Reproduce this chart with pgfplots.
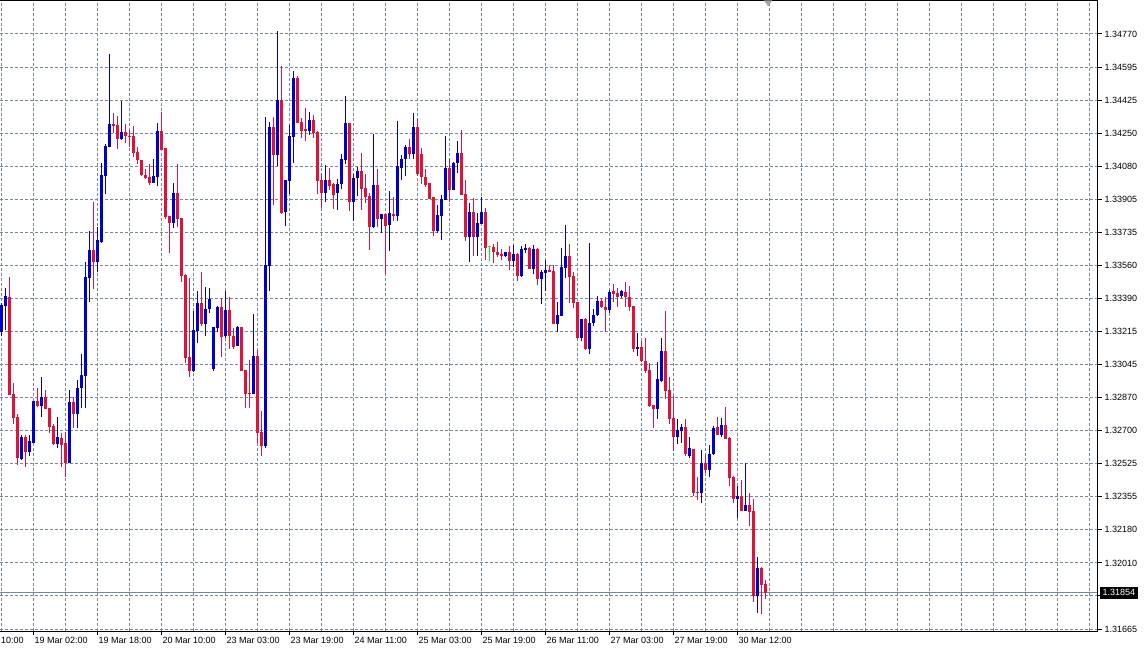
\documentclass[border=0pt]{standalone}
\usepackage{fontspec}
\setmainfont{Liberation Sans}
\usepackage{pgfplots}
\usepackage{pgfplotstable}
\pgfplotsset{compat=1.18}

\definecolor{bull}{RGB}{0,0,205}
\definecolor{bear}{RGB}{220,20,60}
\definecolor{doji}{RGB}{0,255,0}
\definecolor{gridc}{RGB}{119,136,153}

% hourly candles, x = bar index, t: 1 up, -1 down, 0 doji
\pgfplotstableread{
x t o h l c
0 1 1.33215 1.33366 1.33194 1.33356
1 1 1.33351 1.33445 1.33225 1.33403
2 -1 1.33398 1.33502 1.32886 1.32886
3 -1 1.32892 1.32949 1.32735 1.32766
4 -1 1.32772 1.32787 1.32521 1.32558
5 1 1.32552 1.32678 1.32547 1.32667
6 -1 1.32667 1.32678 1.32511 1.32589
7 1 1.32589 1.32678 1.32568 1.32646
8 1 1.32636 1.32855 1.32636 1.32855
9 -1 1.32855 1.32923 1.32824 1.32829
10 1 1.32829 1.32980 1.32772 1.32876
11 -1 1.32876 1.32912 1.32813 1.32813
12 -1 1.32819 1.32819 1.32688 1.32719
13 -1 1.32725 1.32735 1.32625 1.32631
14 1 1.32631 1.32772 1.32610 1.32667
15 -1 1.32662 1.32688 1.32511 1.32625
16 -1 1.32636 1.32693 1.32458 1.32531
17 1 1.32531 1.32912 1.32531 1.32850
18 -1 1.32850 1.32876 1.32714 1.32787
19 1 1.32787 1.32965 1.32714 1.32923
20 1 1.32923 1.33100 1.32819 1.32991
21 1 1.32985 1.33580 1.32819 1.33502
22 1 1.33497 1.33742 1.33372 1.33643
23 -1 1.33643 1.33893 1.33439 1.33580
24 1 1.33580 1.33763 1.33528 1.33695
25 1 1.33685 1.34097 1.33679 1.34034
26 1 1.34029 1.34196 1.33935 1.34186
27 1 1.34180 1.34666 1.34180 1.34300
28 -1 1.34300 1.34358 1.34253 1.34290
29 -1 1.34295 1.34342 1.34170 1.34222
30 1 1.34222 1.34420 1.34217 1.34259
31 -1 1.34259 1.34300 1.34201 1.34238
32 -1 1.34238 1.34269 1.34180 1.34233
33 -1 1.34238 1.34290 1.34128 1.34149
34 -1 1.34154 1.34180 1.34092 1.34113
35 -1 1.34113 1.34113 1.34029 1.34034
36 -1 1.34034 1.34066 1.34013 1.34019
37 -1 1.34024 1.34092 1.33982 1.33993
38 1 1.33993 1.34118 1.33993 1.34029
39 1 1.34024 1.34306 1.33977 1.34264
40 -1 1.34264 1.34363 1.34165 1.34165
41 -1 1.34175 1.34175 1.33805 1.33815
42 -1 1.33820 1.33820 1.33627 1.33784
43 1 1.33784 1.33993 1.33758 1.33940
44 -1 1.33940 1.34092 1.33763 1.33805
45 -1 1.33810 1.33810 1.33476 1.33507
46 -1 1.33512 1.33518 1.33053 1.33079
47 -1 1.33085 1.33497 1.32980 1.33012
48 1 1.33012 1.33325 1.33006 1.33225
49 1 1.33220 1.33429 1.33158 1.33366
50 -1 1.33366 1.33528 1.33246 1.33257
51 1 1.33257 1.33450 1.33194 1.33335
52 1 1.33335 1.33445 1.33314 1.33387
53 1 1.33022 1.33241 1.33012 1.33241
54 1 1.33236 1.33351 1.33215 1.33346
55 -1 1.33346 1.33392 1.33085 1.33189
56 1 1.33194 1.33429 1.33184 1.33330
57 -1 1.33330 1.33398 1.33126 1.33194
58 -1 1.33194 1.33236 1.33126 1.33137
59 1 1.33142 1.33246 1.33142 1.33241
60 -1 1.33241 1.33241 1.33012 1.33012
61 -1 1.33017 1.33017 1.32819 1.32892
62 -1 1.32897 1.33069 1.32819 1.32892
63 1 1.32892 1.33309 1.32892 1.33090
64 -1 1.33090 1.33121 1.32636 1.32688
65 -1 1.32693 1.32803 1.32568 1.32620
66 1 1.32620 1.34337 1.32610 1.33565
67 1 1.33559 1.34311 1.33429 1.34285
68 -1 1.34285 1.34337 1.33878 1.34139
69 1 1.34139 1.34786 1.34081 1.34426
70 -1 1.34426 1.34603 1.33831 1.33836
71 1 1.33841 1.34008 1.33768 1.34008
72 1 1.34003 1.34295 1.33935 1.34238
73 1 1.34233 1.34577 1.34097 1.34540
74 -1 1.34540 1.34551 1.34306 1.34306
75 -1 1.34311 1.34332 1.34227 1.34264
76 -1 1.34274 1.34384 1.34212 1.34264
77 1 1.34264 1.34363 1.34243 1.34321
78 -1 1.34321 1.34347 1.34227 1.34253
79 -1 1.34259 1.34264 1.33935 1.34003
80 -1 1.34008 1.34040 1.33862 1.33940
81 1 1.33940 1.34086 1.33893 1.34008
82 -1 1.34008 1.34071 1.33956 1.33977
83 -1 1.33987 1.33993 1.33857 1.33930
84 1 1.33940 1.34013 1.33852 1.33987
85 1 1.33987 1.34144 1.33961 1.34118
86 1 1.34113 1.34446 1.34092 1.34306
87 -1 1.34306 1.34306 1.33846 1.33893
88 1 1.33893 1.34040 1.33794 1.34019
89 1 1.34019 1.34076 1.33925 1.34055
90 -1 1.34055 1.34149 1.33852 1.33961
91 -1 1.33966 1.34040 1.33888 1.33919
92 -1 1.33925 1.33940 1.33643 1.33763
93 1 1.33763 1.34248 1.33758 1.33982
94 -1 1.33982 1.34066 1.33763 1.33805
95 1 1.33805 1.33831 1.33732 1.33831
96 -1 1.33831 1.33831 1.33518 1.33768
97 1 1.33773 1.33951 1.33638 1.33836
98 -1 1.33831 1.33919 1.33794 1.33820
99 1 1.33820 1.34316 1.33794 1.34081
100 1 1.34071 1.34139 1.34008 1.34118
101 1 1.34118 1.34191 1.34029 1.34180
102 -1 1.34180 1.34222 1.34118 1.34144
103 1 1.34144 1.34358 1.34118 1.34285
104 -1 1.34285 1.34326 1.34029 1.34040
105 -1 1.34144 1.34175 1.33987 1.34024
106 -1 1.34024 1.34066 1.33972 1.33982
107 -1 1.33993 1.33993 1.33909 1.33909
108 -1 1.33919 1.33919 1.33716 1.33742
109 1 1.33742 1.33878 1.33732 1.33826
110 1 1.33820 1.33930 1.33695 1.33909
111 1 1.33904 1.34238 1.33904 1.34071
112 -1 1.34071 1.34118 1.33893 1.33956
113 1 1.33956 1.34102 1.33956 1.34097
114 1 1.34097 1.34212 1.34045 1.34149
115 -1 1.34149 1.34269 1.33930 1.33930
116 -1 1.33935 1.34008 1.33690 1.33711
117 1 1.33711 1.33888 1.33580 1.33841
118 -1 1.33841 1.33914 1.33612 1.33711
119 1 1.33711 1.33836 1.33612 1.33784
120 1 1.33779 1.33919 1.33779 1.33841
121 -1 1.33841 1.33862 1.33591 1.33653
122 0 1.33659 1.33664 1.33586 1.33659
123 -1 1.33659 1.33674 1.33575 1.33632
124 -1 1.33632 1.33685 1.33606 1.33617
125 -1 1.33622 1.33648 1.33591 1.33612
126 1 1.33612 1.33632 1.33606 1.33632
127 -1 1.33632 1.33664 1.33539 1.33586
128 1 1.33586 1.33669 1.33554 1.33622
129 -1 1.33622 1.33627 1.33481 1.33507
130 1 1.33507 1.33664 1.33502 1.33648
131 1 1.33643 1.33674 1.33627 1.33653
132 -1 1.33653 1.33659 1.33544 1.33544
133 1 1.33544 1.33669 1.33518 1.33648
134 -1 1.33648 1.33653 1.33460 1.33492
135 1 1.33492 1.33539 1.33361 1.33528
136 1 1.33523 1.33591 1.33429 1.33539
137 -1 1.33539 1.33565 1.33528 1.33528
138 -1 1.33533 1.33565 1.33257 1.33257
139 1 1.33257 1.33372 1.33215 1.33304
140 1 1.33299 1.33653 1.33299 1.33554
141 1 1.33549 1.33773 1.33497 1.33612
142 -1 1.33612 1.33674 1.33366 1.33502
143 -1 1.33507 1.33528 1.33340 1.33366
144 -1 1.33372 1.33372 1.33178 1.33184
145 1 1.33184 1.33283 1.33168 1.33283
146 -1 1.33283 1.33288 1.33121 1.33126
147 1 1.33126 1.33679 1.33100 1.33262
148 1 1.33262 1.33335 1.33246 1.33304
149 1 1.33304 1.33403 1.33299 1.33377
150 -1 1.33377 1.33392 1.33340 1.33346
151 -1 1.33346 1.33398 1.33215 1.33330
152 1 1.33330 1.33434 1.33314 1.33424
153 -1 1.33429 1.33466 1.33372 1.33413
154 -1 1.33419 1.33445 1.33346 1.33398
155 1 1.33403 1.33434 1.33392 1.33429
156 -1 1.33424 1.33476 1.33346 1.33398
157 -1 1.33398 1.33455 1.33325 1.33346
158 -1 1.33351 1.33351 1.33111 1.33126
159 1 1.33126 1.33210 1.33090 1.33137
160 -1 1.33137 1.33168 1.33058 1.33064
161 -1 1.33064 1.33184 1.33001 1.33012
162 -1 1.33017 1.33053 1.32824 1.32829
163 -1 1.32834 1.32834 1.32714 1.32813
164 1 1.32813 1.33058 1.32761 1.32970
165 1 1.32959 1.33184 1.32954 1.33116
166 -1 1.33116 1.33325 1.32865 1.32907
167 -1 1.32912 1.32980 1.32735 1.32761
168 -1 1.32766 1.32881 1.32594 1.32667
169 1 1.32667 1.32761 1.32631 1.32704
170 1 1.32698 1.32735 1.32636 1.32719
171 -1 1.32719 1.32761 1.32568 1.32578
172 1 1.32568 1.32667 1.32558 1.32610
173 -1 1.32604 1.32604 1.32359 1.32375
174 -1 1.32380 1.32458 1.32338 1.32375
175 1 1.32375 1.32599 1.32323 1.32531
176 -1 1.32531 1.32573 1.32479 1.32495
177 1 1.32495 1.32625 1.32458 1.32578
178 1 1.32578 1.32725 1.32573 1.32714
179 -1 1.32719 1.32772 1.32678 1.32678
180 1 1.32678 1.32766 1.32667 1.32730
181 -1 1.32730 1.32824 1.32657 1.32657
182 -1 1.32662 1.32667 1.32411 1.32453
183 -1 1.32458 1.32464 1.32323 1.32344
184 1 1.32344 1.32411 1.32244 1.32359
185 -1 1.32359 1.32443 1.32281 1.32281
186 1 1.32281 1.32531 1.32281 1.32312
187 -1 1.32312 1.32375 1.32203 1.32276
188 -1 1.32281 1.32344 1.31806 1.31837
189 1 1.31837 1.32041 1.31749 1.31984
190 -1 1.31984 1.31989 1.31744 1.31895
191 -1 1.31900 1.31921 1.31822 1.31854
}\candles

\begin{document}
\begin{tikzpicture}
\begin{axis}[
  at={(0pt,17pt)}, anchor=south west,
  scale only axis, width=1098pt, height=630.5pt,
  xmin=-0.325, xmax=274.175,
  ymin=1.316548, ymax=1.349448,
  clip=false,
  axis line style={draw=none},
  font=\fontsize{9}{10}\selectfont,
  xtick={8,24,40,56,72,88,104,120,136,152,168,184},
  xticklabels={19 Mar 02:00,19 Mar 18:00,20 Mar 10:00,23 Mar 03:00,23 Mar 19:00,24 Mar 11:00,25 Mar 03:00,25 Mar 19:00,26 Mar 11:00,27 Mar 03:00,27 Mar 19:00,30 Mar 12:00},
  minor xtick={0,16,32,48,64,80,96,112,128,144,160,176,192,200,208,216,224,232,240,248,256,264,272},
  ytick={1.347700,1.345975,1.344250,1.342525,1.340800,1.339075,1.337350,1.335625,1.333900,1.332175,1.330450,1.328725,1.327000,1.325275,1.323550,1.321825,1.320100,1.318375,1.316650},
  yticklabels={1.34770,1.34595,1.34425,1.34250,1.34080,1.33905,1.33735,1.33560,1.33390,1.33215,1.33045,1.32870,1.32700,1.32525,1.32355,1.32180,1.32010,,1.31665},
  xtick pos=bottom, ytick pos=right, yticklabel pos=right,
  tick align=outside, major tick length=4pt, minor tick length=0pt,
  tick style={black, line width=1pt},
  xmajorgrids, xminorgrids, ymajorgrids,
  major grid style={gridc, line width=1pt, dash pattern=on 3pt off 2pt},
  minor grid style={gridc, line width=1pt, dash pattern=on 3pt off 2pt},
  xticklabel style={anchor=north west, xshift=-2.3pt, yshift=1pt},
  yticklabel style={anchor=west, xshift=-1pt},
]
% bid line
\addplot[gridc, line width=1pt] coordinates {(-0.325,1.31854) (274.175,1.31854)};

% wicks
\addplot[bull, line width=1pt, quiver={u=0, v=\thisrow{h}-\thisrow{l}},
  restrict expr to domain={\thisrow{t}}{1:1}] table[x=x, y=l] {\candles};
\addplot[bear, line width=1pt, quiver={u=0, v=\thisrow{h}-\thisrow{l}},
  restrict expr to domain={\thisrow{t}}{-1:-1}] table[x=x, y=l] {\candles};
\addplot[doji, line width=1pt, quiver={u=0, v=\thisrow{h}-\thisrow{l}},
  restrict expr to domain={\thisrow{t}}{0:0}] table[x=x, y=l] {\candles};

% bodies
\addplot[bull, line width=3pt, quiver={u=0, v=\thisrow{c}-\thisrow{o}},
  restrict expr to domain={\thisrow{t}}{1:1}] table[x=x, y=o] {\candles};
\addplot[bear, line width=3pt, quiver={u=0, v=\thisrow{c}-\thisrow{o}},
  restrict expr to domain={\thisrow{t}}{-1:-1}] table[x=x, y=o] {\candles};
\addplot[doji, only marks, mark=-, mark size=1.5pt, mark options={line width=1pt},
  restrict expr to domain={\thisrow{t}}{0:0}] table[x=x, y=o] {\candles};

% frame: top, right, bottom
\draw[black, line width=1pt] (rel axis cs:0,1) -- (rel axis cs:1,1) -- (rel axis cs:1,0) -- (rel axis cs:0,0);

% cut-off first date label
\node[anchor=north west, inner sep=3.33pt, xshift=-2.3pt, yshift=-3pt] at (axis cs:-8,1.316548) {18 Mar 10:00};

% current price tag
\node[fill=black, text=white, anchor=west, inner xsep=3pt, inner ysep=1.5pt, minimum height=12pt, xshift=1.5pt]
  at (axis cs:274.175,1.31854) {1.31854};

% chart shift marker
\fill[gray!70] (axis cs:190.7,1.349448) -- (axis cs:192.7,1.349448) -- ([yshift=-6pt]axis cs:191.7,1.349448) -- cycle;
\end{axis}
\pgfresetboundingbox
\path[use as bounding box] (0,0) rectangle (1145pt,648pt);
\end{tikzpicture}
\end{document}
